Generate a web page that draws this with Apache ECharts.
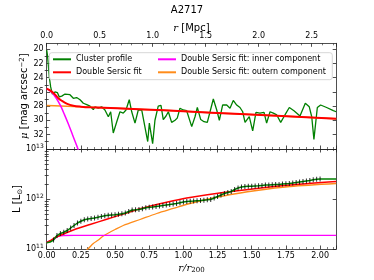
<!DOCTYPE html>
<html><head><meta charset="utf-8">
<script src="https://cdn.jsdelivr.net/npm/echarts@6/dist/echarts.min.js"></script>
<style>html,body{margin:0;padding:0;background:#fff}#c{width:374px;height:280px}</style>
</head><body><div id="c"></div>
<script>
// ---- top panel: surface brightness profile (x = r/r200, y = mu) ----
const profileR = [0.000,0.006,0.019,0.029,0.041,0.061,0.078,0.092,0.110,0.134,0.170,0.195,0.219,0.244,0.268,0.293,0.317,0.341,0.353,0.377,0.402,0.426,0.451,0.468,0.487,0.516,0.536,0.560,0.580,0.604,0.622,0.646,0.670,0.695,0.707,0.739,0.751,0.775,0.792,0.816,0.836,0.853,0.873,0.890,0.914,0.939,0.955,0.975,0.999,1.024,1.061,1.085,1.102,1.127,1.151,1.175,1.195,1.219,1.244,1.263,1.287,1.317,1.341,1.365,1.390,1.414,1.434,1.451,1.482,1.507,1.531,1.560,1.590,1.609,1.634,1.658,1.683,1.712,1.743,1.775,1.809,1.853,1.892,1.921,1.939,1.955,1.980,2.004,2.048,2.097,2.118];
const profileMu = [20.1,20.9,23.9,25.3,26.3,26.0,26.1,26.7,26.6,26.3,26.4,26.9,26.8,27.1,27.6,27.8,28.0,28.5,28.1,28.3,28.1,28.55,29.5,28.8,31.8,30.0,28.8,29.0,28.55,27.1,28.8,30.4,28.55,28.55,28.8,33.0,30.4,33.3,30.0,28.0,27.9,29.9,29.4,28.8,30.3,30.0,29.7,28.3,28.55,28.65,30.9,29.5,28.2,29.9,30.2,30.3,28.8,27.0,28.55,30.0,27.85,27.85,28.3,27.2,27.85,28.2,28.8,30.3,29.5,31.5,28.9,29.0,28.9,30.4,28.8,29.0,29.25,30.3,29.25,28.2,28.65,29.4,27.6,28.1,29.5,32.7,28.2,27.85,28.2,28.65,28.8];
const fitR = [0,0.03,0.06,0.085,0.11,0.146,0.195,0.25,0.317,0.714,1.0,1.414,2.118];
const fitMu = [25.55,25.85,26.35,26.9,27.25,27.65,27.95,28.08,28.17,28.47,28.73,29.12,29.8];
const innerR = [0,0.04,0.07,0.1,0.13,0.16,0.19,0.22,0.235];
const innerMu = [25.55,26.1,26.9,27.9,29.2,30.6,32.1,33.6,34.4];
const outerR = [0,0.1,0.2,0.317,0.714,1.0,1.414,2.118];
const outerMu = [27.93,27.98,28.05,28.17,28.47,28.73,29.12,29.8];
const muTicks = [20,22,24,26,28,30,32];
const muMinor = [21,23,25,27,29,31,33];

// ---- bottom panel: cumulative luminosity ----
const lumR = [0,0.025,0.05,0.075,0.1,0.125,0.15,0.175,0.2,0.225,0.25,0.275,0.3,0.325,0.35,0.375,0.4,0.425,0.45,0.475,0.5,0.525,0.55,0.575,0.6,0.625,0.65,0.675,0.7,0.725,0.75,0.775,0.8,0.825,0.85,0.875,0.9,0.925,0.95,0.975,1.0,1.025,1.05,1.075,1.1,1.125,1.15,1.175,1.2,1.225,1.25,1.275,1.3,1.325,1.35,1.375,1.4,1.425,1.45,1.475,1.5,1.525,1.55,1.575,1.6,1.625,1.65,1.675,1.7,1.725,1.75,1.775,1.8,1.825,1.85,1.875,1.9,1.925,1.95,1.975,2.0,2.118];
const lumVal = [1.34e11,1.38e11,1.51e11,1.86e11,2.04e11,2.16e11,2.34e11,2.63e11,2.95e11,3.31e11,3.59e11,3.85e11,3.98e11,4.09e11,4.19e11,4.32e11,4.49e11,4.62e11,4.73e11,4.81e11,4.86e11,4.95e11,5.07e11,5.25e11,5.62e11,6.03e11,6.08e11,6.17e11,6.38e11,6.68e11,6.84e11,6.95e11,7.08e11,7.24e11,7.41e11,7.59e11,7.76e11,7.94e11,8.13e11,8.41e11,8.71e11,8.91e11,9.02e11,9.12e11,9.23e11,9.33e11,9.48e11,9.62e11,9.77e11,1.047e12,1.122e12,1.202e12,1.288e12,1.349e12,1.413e12,1.549e12,1.66e12,1.738e12,1.778e12,1.79e12,1.8e12,1.82e12,1.84e12,1.87e12,1.9e12,1.91e12,1.93e12,1.95e12,1.96e12,2.0e12,2.02e12,2.04e12,2.08e12,2.14e12,2.19e12,2.24e12,2.29e12,2.34e12,2.43e12,2.48e12,2.51e12,2.51e12];
const lumFitR = [0,0.03,0.061,0.097,0.14,0.195,0.317,0.439,0.56,0.683,0.805,0.926,1.048,1.292,1.536,1.78,2.118];
const lumFit = [1.35e11,1.48e11,1.70e11,1.86e11,2.09e11,2.40e11,3.09e11,3.94e11,5.01e11,6.38e11,7.76e11,9.23e11,1.072e12,1.349e12,1.622e12,1.905e12,2.239e12];
const lumInnerR = [0,0.048,0.085,0.121,0.2,2.118];
const lumInner = [1.38e11,1.55e11,1.78e11,1.86e11,1.87e11,1.87e11];
const lumOuterR = [0.27,0.305,0.341,0.378,0.414,0.439,0.5,0.56,0.683,0.805,0.926,1.048,1.292,1.536,1.78,2.118];
const lumOuter = [8.5e10,1.02e11,1.29e11,1.51e11,1.82e11,2.0e11,2.45e11,2.95e11,3.89e11,5.13e11,6.46e11,8.13e11,1.148e12,1.479e12,1.778e12,2.042e12];

const xMax = 2.118, mpcMax = 2.731;
const zip = (a, b) => a.map((v, i) => [v, b[i]]);

const AX = '#222';
const line = {show: true, onZero: false, lineStyle: {color: AX, width: 0.8}};
const tick = (extra) => Object.assign({show: true, inside: true, length: 3.5, lineStyle: {color: AX, width: 0.8}}, extra || {});
const minor = {show: true, splitNumber: 5, length: 2, lineStyle: {color: AX, width: 0.6}};
const lbl = (extra) => Object.assign({show: true, fontSize: 8, color: '#000', fontFamily: 'DejaVu Sans'}, extra || {});
const supRich = {s: {fontSize: 6, fontFamily: 'DejaVu Sans', color: '#000', padding: [0, 0, 5, 0]}};
const logMinor = [];
[11, 12].forEach(e => { for (let k = 2; k <= 9; k++) logMinor.push(e + Math.log10(k)); });

const grids = [
  {left: 46.7, top: 43.3, width: 289.5, height: 105.7},
  {left: 46.7, top: 149, width: 289.5, height: 100}
];

const option = {
  animation: false,
  textStyle: {fontFamily: 'DejaVu Sans'},
  title: {text: 'A2717', left: 'center', top: 5, padding: 0, textStyle: {fontSize: 10, fontWeight: 'normal', color: '#000', fontFamily: 'DejaVu Sans'}},
  grid: grids.map(g => Object.assign({containLabel: false, outerBoundsMode: 'none'}, g)),
  xAxis: [
    {gridIndex: 0, type: 'value', position: 'bottom', min: 0, max: xMax, interval: 0.25,
     axisLine: line, axisTick: tick(), minorTick: minor, axisLabel: {show: false}, splitLine: {show: false}},
    {gridIndex: 0, type: 'value', position: 'top', min: 0, max: mpcMax, interval: 0.5,
     axisLine: line, axisTick: tick(), minorTick: minor, splitLine: {show: false},
     axisLabel: lbl({margin: 3, showMaxLabel: false, formatter: v => v.toFixed(1)}),
     name: '{i|r} [Mpc]', nameLocation: 'middle', nameGap: 10, nameMoveOverlap: false,
     nameTextStyle: {fontSize: 10, color: '#000', fontFamily: 'DejaVu Sans',
       rich: {i: {fontSize: 10, fontFamily: 'DejaVu Serif', fontStyle: 'italic', color: '#000'}}}},
    {gridIndex: 1, type: 'value', position: 'bottom', min: 0, max: xMax, interval: 0.25,
     axisLine: line, axisTick: tick(), minorTick: minor, splitLine: {show: false},
     axisLabel: lbl({margin: 3, showMaxLabel: false, formatter: v => v.toFixed(2)}),
     name: '{i|r/r}{sub|200}', nameLocation: 'middle', nameGap: 13, nameMoveOverlap: false,
     nameTextStyle: {fontSize: 10, color: '#000',
       rich: {i: {fontSize: 10, fontFamily: 'DejaVu Serif', fontStyle: 'italic', color: '#000'},
              sub: {fontSize: 7, fontFamily: 'DejaVu Serif', color: '#000', padding: [5, 0, 0, 0]}}}},
    {gridIndex: 1, type: 'value', position: 'top', min: 0, max: xMax, interval: 0.25,
     axisLine: line, axisTick: tick(), minorTick: minor, axisLabel: {show: false}, splitLine: {show: false}}
  ],
  yAxis: [
    {gridIndex: 0, type: 'value', position: 'left', inverse: true, min: 19.15, max: 34.05,
     axisLine: line, axisTick: tick({customValues: muTicks}), splitLine: {show: false},
     axisLabel: lbl({margin: 3, customValues: muTicks}),
     name: '{i|μ} [mag arcsec{s|−2}]', nameLocation: 'middle', nameRotate: 90, nameGap: 16, nameMoveOverlap: false,
     nameTextStyle: {fontSize: 10, color: '#000', fontFamily: 'DejaVu Sans',
       rich: {i: {fontSize: 10, fontFamily: 'DejaVu Serif', fontStyle: 'italic', color: '#000'},
              s: {fontSize: 7, color: '#000', padding: [0, 0, 5, 0]}}}},
    {gridIndex: 0, type: 'value', position: 'left', inverse: true, min: 19.15, max: 34.05,
     axisLine: {show: false}, axisTick: tick({customValues: muMinor, length: 2}), axisLabel: {show: false}, splitLine: {show: false}},
    {gridIndex: 0, type: 'value', position: 'right', inverse: true, min: 19.15, max: 34.05,
     axisLine: line, axisTick: tick({customValues: muTicks}), axisLabel: {show: false}, splitLine: {show: false}},
    {gridIndex: 0, type: 'value', position: 'right', inverse: true, min: 19.15, max: 34.05,
     axisLine: {show: false}, axisTick: tick({customValues: muMinor, length: 2}), axisLabel: {show: false}, splitLine: {show: false}},
    {gridIndex: 1, type: 'log', logBase: 10, position: 'left', min: 1e11, max: 1e13, splitNumber: 2,
     axisLine: line, axisTick: tick(), splitLine: {show: false},
     axisLabel: lbl({margin: 3, formatter: v => '10{s|' + Math.round(Math.log10(v)) + '}', rich: supRich}),
     name: 'L [L{sub|⊙}]', nameLocation: 'middle', nameRotate: 90, nameGap: 23, nameMoveOverlap: false,
     nameTextStyle: {fontSize: 10, color: '#000', fontFamily: 'DejaVu Sans',
       rich: {sub: {fontSize: 7, color: '#000', padding: [5, 0, 0, 0]}}}},
    {gridIndex: 1, type: 'log', logBase: 10, position: 'right', min: 1e11, max: 1e13, splitNumber: 2,
     axisLine: line, axisTick: tick(), axisLabel: {show: false}, splitLine: {show: false}},
    {gridIndex: 1, type: 'value', position: 'left', min: 11, max: 13,
     axisLine: {show: false}, axisTick: tick({customValues: logMinor, length: 2}), axisLabel: {show: false}, splitLine: {show: false}},
    {gridIndex: 1, type: 'value', position: 'right', min: 11, max: 13,
     axisLine: {show: false}, axisTick: tick({customValues: logMinor, length: 2}), axisLabel: {show: false}, splitLine: {show: false}}
  ],
  legend: [
    {data: ['Cluster profile', 'Double Sersic fit'], orient: 'vertical', left: 53, top: 54.3,
     itemWidth: 18, itemHeight: 2, icon: 'rect', itemGap: 3, padding: 0, selectedMode: false, z: 10,
     textStyle: {fontSize: 8, color: '#000', fontFamily: 'DejaVu Sans', lineHeight: 10}},
    {data: ['Double Sersic fit: inner component', 'Double Sersic fit: outern component'], orient: 'vertical', left: 158, top: 54.3,
     itemWidth: 18, itemHeight: 2, icon: 'rect', itemGap: 3, padding: 0, selectedMode: false, z: 10,
     textStyle: {fontSize: 8, color: '#000', fontFamily: 'DejaVu Sans', lineHeight: 10}}
  ],
  graphic: [
    {type: 'rect', z: 9, shape: {x: 49.3, y: 52.7, width: 283, height: 27, r: 2.5},
     style: {fill: 'rgba(255,255,255,0.8)', stroke: '#cccccc', lineWidth: 0.8}}
  ],
  series: [
    {name: 'Cluster profile', type: 'line', xAxisIndex: 0, yAxisIndex: 0, data: zip(profileR, profileMu),
     showSymbol: false, symbol: 'none', lineStyle: {color: '#008000', width: 1.3}, itemStyle: {color: '#008000'}, z: 2},
    {name: 'Double Sersic fit: outern component', type: 'line', xAxisIndex: 0, yAxisIndex: 0, data: zip(outerR, outerMu), smooth: 0.3,
     showSymbol: false, symbol: 'none', lineStyle: {color: '#ff8c1a', width: 1.5}, itemStyle: {color: '#ff8c1a'}, z: 3},
    {name: 'Double Sersic fit: inner component', type: 'line', xAxisIndex: 0, yAxisIndex: 0, data: zip(innerR, innerMu), smooth: 0.3,
     showSymbol: false, symbol: 'none', lineStyle: {color: '#ff00ff', width: 1.5}, itemStyle: {color: '#ff00ff'}, z: 4},
    {name: 'Double Sersic fit', type: 'line', xAxisIndex: 0, yAxisIndex: 0, data: zip(fitR, fitMu), smooth: 0.3,
     showSymbol: false, symbol: 'none', lineStyle: {color: '#ff0000', width: 2}, itemStyle: {color: '#ff0000'}, z: 5},

    {name: 'L outer', type: 'line', xAxisIndex: 2, yAxisIndex: 4, data: zip(lumOuterR, lumOuter), smooth: 0.3,
     showSymbol: false, symbol: 'none', lineStyle: {color: '#ff8c1a', width: 1.3}, z: 2},
    {name: 'L inner', type: 'line', xAxisIndex: 2, yAxisIndex: 4, data: zip(lumInnerR, lumInner), smooth: 0.3,
     showSymbol: false, symbol: 'none', lineStyle: {color: '#ff00ff', width: 1.3}, z: 3},
    {name: 'L fit', type: 'line', xAxisIndex: 2, yAxisIndex: 4, data: zip(lumFitR, lumFit), smooth: 0.3,
     showSymbol: false, symbol: 'none', lineStyle: {color: '#ff0000', width: 1.5}, z: 4},
    {name: 'L profile', type: 'line', xAxisIndex: 2, yAxisIndex: 4, data: zip(lumR, lumVal),
     showSymbol: false, symbol: 'none', lineStyle: {color: '#008000', width: 1.5}, z: 5},
    {name: 'L errors', type: 'scatter', xAxisIndex: 2, yAxisIndex: 4, data: zip(lumR, lumVal).slice(2, lumR.length - 1),
     symbol: 'rect', symbolSize: [1, 5], itemStyle: {color: '#000'}, z: 6, silent: true}
  ]
};
echarts.init(document.getElementById('c'), null, {renderer: 'canvas'}).setOption(option);
</script></body></html>
